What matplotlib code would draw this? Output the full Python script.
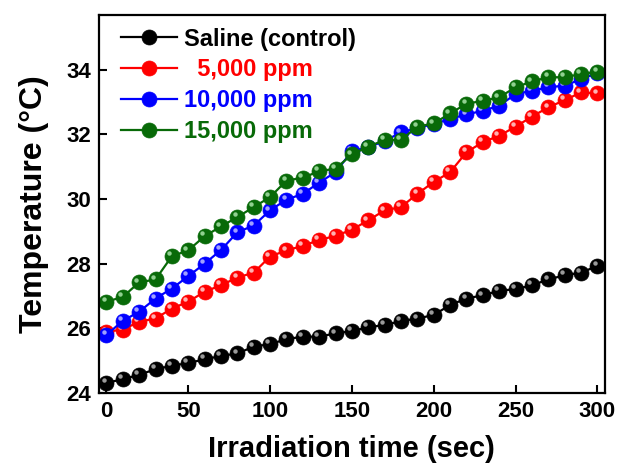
import numpy as np
import matplotlib.pyplot as plt
from matplotlib.transforms import ScaledTranslation

plt.rcParams['font.family'] = ['Liberation Sans', 'DejaVu Sans']
plt.rcParams['font.weight'] = 'bold'

## DATA
time_sec = list(range(0, 301, 10))
saline = [24.31, 24.42, 24.56, 24.73, 24.84, 24.92, 25.04, 25.14, 25.22, 25.43,
          25.51, 25.66, 25.74, 25.74, 25.84, 25.91, 26.03, 26.10, 26.22, 26.30,
          26.41, 26.72, 26.92, 27.02, 27.16, 27.21, 27.33, 27.51, 27.64, 27.72, 27.93]
ppm5000 = [25.89, 25.96, 26.20, 26.30, 26.61, 26.82, 27.13, 27.33, 27.57, 27.72,
           28.22, 28.41, 28.55, 28.73, 28.86, 29.05, 29.34, 29.65, 29.75, 30.16,
           30.53, 30.83, 31.45, 31.76, 31.96, 32.24, 32.55, 32.84, 33.06, 33.30, 33.27]
ppm10000 = [25.79, 26.23, 26.51, 26.92, 27.23, 27.61, 28.00, 28.42, 28.97, 29.18,
            29.65, 29.98, 30.16, 30.51, 30.83, 31.48, 31.60, 31.80, 32.06, 32.20,
            32.32, 32.48, 32.62, 32.73, 32.89, 33.25, 33.35, 33.46, 33.51, 33.71, 33.90]
ppm15000 = [26.82, 26.97, 27.42, 27.51, 28.23, 28.41, 28.85, 29.15, 29.44, 29.75,
            30.06, 30.57, 30.66, 30.86, 30.94, 31.38, 31.62, 31.83, 31.83, 32.24,
            32.34, 32.65, 32.95, 33.04, 33.15, 33.46, 33.64, 33.77, 33.77, 33.87, 33.94]

labels = ['Saline (control)', '  5,000 ppm', '10,000 ppm', '15,000 ppm']
series = [saline, ppm5000, ppm10000, ppm15000]
colors = ['#000000', '#FF0000', '#0000FF', '#086A08']
shine = ['#9a9a9a', '#FFB0B0', '#A0A0FF', '#90D090']

fig = plt.figure(figsize=(6.19, 4.66), dpi=100)
ax = fig.add_axes([0.160, 0.157, 0.817, 0.811])

off = ScaledTranslation(-2 / 72, 2 / 72, fig.dpi_scale_trans)
handles = []
for y, c, s, lab in zip(series, colors, shine, labels):
    h, = ax.plot(time_sec, y, '-o', color=c, lw=1.6, ms=10.8,
                 markeredgecolor=c, markeredgewidth=0.5, label=lab)
    ax.plot(time_sec, y, 'o', color=s, ms=3.2, markeredgewidth=0,
            transform=ax.transData + off)
    handles.append(h)

ax.set_xlim(-4.5, 304.5)
ax.set_ylim(24, 35.7)
ax.set_xticks(range(0, 301, 50))
ax.set_yticks(range(24, 35, 2))
ax.tick_params(direction='in', length=6, width=1.5, labelsize=16,
               top=False, right=False)
ax.tick_params(axis='x', pad=6)
ax.tick_params(axis='y', pad=6)
for sp in ax.spines.values():
    sp.set_linewidth(1.6)

ax.set_xlabel('Irradiation time (sec)', fontsize=21, fontweight='bold', labelpad=9)
ax.set_ylabel('Temperature (\u00b0C)', fontsize=23, fontweight='bold', labelpad=12)

leg = ax.legend(handles=handles, loc='upper left', bbox_to_anchor=(0.01, 1.01),
                frameon=False, fontsize=17, handlelength=2.4, handletextpad=0.3,
                labelspacing=0.33, borderaxespad=0.3)
for t, c in zip(leg.get_texts(), colors):
    t.set_color(c)
    t.set_fontweight('bold')

fig.savefig('out.png', dpi=100)
